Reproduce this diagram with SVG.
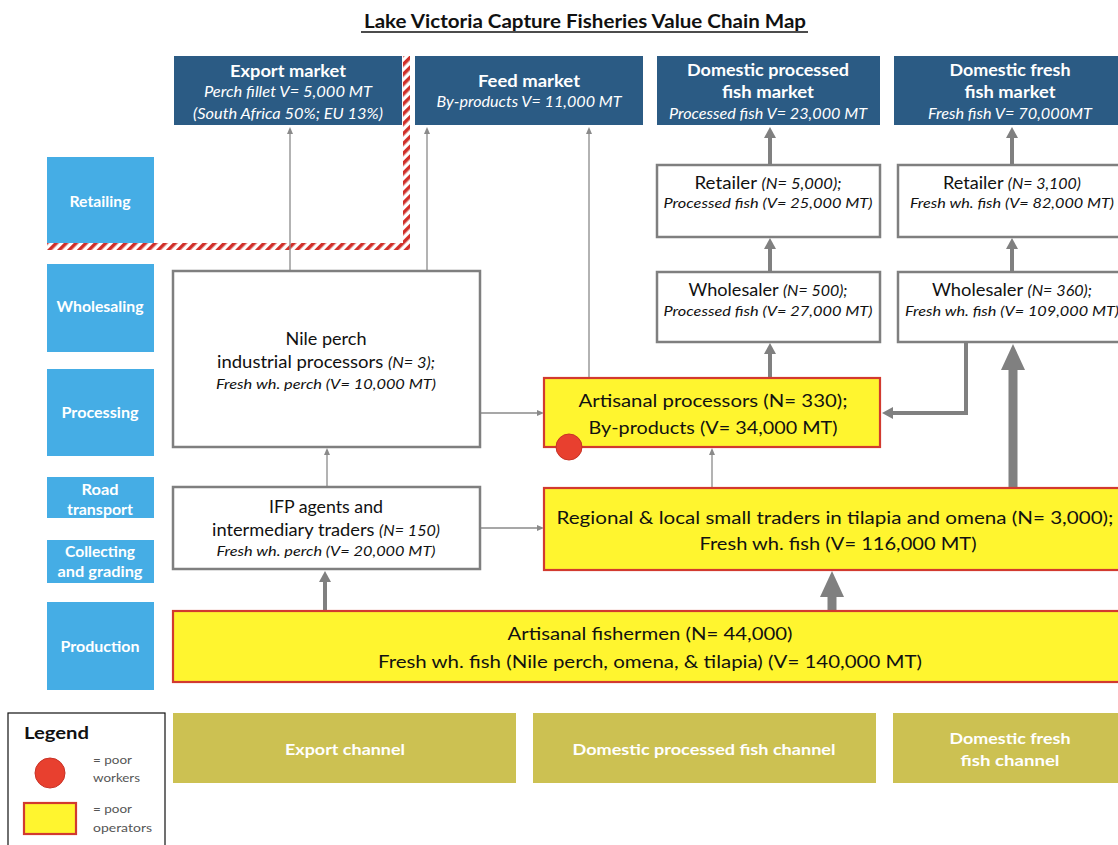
<svg xmlns="http://www.w3.org/2000/svg" width="1118" height="845" viewBox="0 0 1118 845">
<style>
text{font-family:Lato,"Liberation Sans",sans-serif;fill:#111;}
.mkt{fill:#2B5B84;}
.mt{fill:#fff;font-weight:bold;font-size:17px;text-anchor:middle;}
.ms{fill:#fff;font-style:italic;font-size:14.5px;text-anchor:middle;}
.stage{fill:#45ADE5;}
.st{fill:#fff;font-weight:bold;font-size:14.5px;text-anchor:middle;}
.wbox{fill:#fff;stroke:#7F7F7F;stroke-width:2.5;}
.ybox{fill:#FFF52F;stroke:#D23A2F;stroke-width:2.2;}
.bt{font-size:17px;text-anchor:middle;}
.it{font-style:italic;font-size:14px;}
.ti{font-style:italic;font-size:15px;}
.ch{fill:#CCC152;}
.ct{fill:#fff;font-weight:bold;font-size:16px;text-anchor:middle;}
.thin{stroke:#8A8A8A;stroke-width:1.3;fill:none;}
.med{stroke:#808080;stroke-width:4;fill:none;}
.thick{stroke:#808080;stroke-width:9;fill:none;}
.lg{fill:#555;font-size:11.5px;}
</style>
<defs>
<marker id="aThin" markerUnits="userSpaceOnUse" viewBox="0 0 7 6" refX="0" refY="3" markerWidth="7" markerHeight="6" orient="auto"><path d="M0,0 L7,3 L0,6 z" fill="#8A8A8A"/></marker>
<marker id="aMed" markerUnits="userSpaceOnUse" viewBox="0 0 11 12" refX="0" refY="6" markerWidth="11" markerHeight="12" orient="auto"><path d="M0,0 L11,6 L0,12 z" fill="#808080"/></marker>
<marker id="aThick" markerUnits="userSpaceOnUse" viewBox="0 0 26 24" refX="0" refY="12" markerWidth="26" markerHeight="24" orient="auto"><path d="M0,0 L26,12 L0,24 z" fill="#808080"/></marker>
<pattern id="hatch" patternUnits="userSpaceOnUse" width="7" height="7" patternTransform="rotate(45)"><rect width="7" height="7" fill="#fff"/><rect width="3.5" height="7" fill="#D0302A"/></pattern>
</defs>
<rect width="1118" height="845" fill="#fff"/>

<g id="title">
<text x="585" y="28" text-anchor="middle" font-weight="bold" font-size="18" textLength="442" lengthAdjust="spacingAndGlyphs">Lake Victoria Capture Fisheries Value Chain Map</text>
<line x1="361" y1="32" x2="808" y2="32" stroke="#111" stroke-width="1.5"/>
</g>

<g id="stages">
<rect class="stage" x="47" y="157" width="107" height="86"/>
<text class="st" x="100" y="207" textLength="61" lengthAdjust="spacingAndGlyphs">Retailing</text>
<rect class="stage" x="47" y="264" width="107" height="88"/>
<text class="st" x="100" y="312" textLength="87" lengthAdjust="spacingAndGlyphs">Wholesaling</text>
<rect class="stage" x="47" y="369" width="107" height="87"/>
<text class="st" x="100" y="418" textLength="77" lengthAdjust="spacingAndGlyphs">Processing</text>
<rect class="stage" x="47" y="477" width="107" height="41"/>
<text class="st" x="100" y="495" textLength="37" lengthAdjust="spacingAndGlyphs">Road</text>
<text class="st" x="100" y="515" textLength="66" lengthAdjust="spacingAndGlyphs">transport</text>
<rect class="stage" x="47" y="540" width="107" height="43"/>
<text class="st" x="100" y="557" textLength="70" lengthAdjust="spacingAndGlyphs">Collecting</text>
<text class="st" x="100" y="577" textLength="85" lengthAdjust="spacingAndGlyphs">and grading</text>
<rect class="stage" x="47" y="602" width="107" height="88"/>
<text class="st" x="100" y="652" textLength="79" lengthAdjust="spacingAndGlyphs">Production</text>
</g>

<g id="export-boundary">
<rect x="47" y="243" width="363" height="7" fill="url(#hatch)"/>
<rect x="403" y="56" width="7" height="194" fill="url(#hatch)"/>
</g>

<g id="connectors">
<line class="thin" x1="290" y1="271" x2="290" y2="134" marker-end="url(#aThin)"/>
<line class="thin" x1="427" y1="271" x2="427" y2="134" marker-end="url(#aThin)"/>
<line class="thin" x1="589" y1="378" x2="589" y2="134" marker-end="url(#aThin)"/>
<line class="thin" x1="481" y1="413" x2="537" y2="413" marker-end="url(#aThin)"/>
<line class="thin" x1="327" y1="487" x2="327" y2="455" marker-end="url(#aThin)"/>
<line class="thin" x1="481" y1="528" x2="537" y2="528" marker-end="url(#aThin)"/>
<line class="thin" x1="712" y1="488" x2="712" y2="455" marker-end="url(#aThin)"/>
<line class="med" x1="770" y1="378" x2="770" y2="354" marker-end="url(#aMed)"/>
<line class="med" x1="770" y1="272" x2="770" y2="249" marker-end="url(#aMed)"/>
<line class="med" x1="770" y1="165" x2="770" y2="138" marker-end="url(#aMed)"/>
<line class="med" x1="1012" y1="272" x2="1012" y2="249" marker-end="url(#aMed)" stroke-width="5"/>
<line class="med" x1="1012" y1="165" x2="1012" y2="138" marker-end="url(#aMed)" stroke-width="5"/>
<polyline class="med" points="966,343 966,413 893,413" marker-end="url(#aMed)"/>
<line class="med" x1="325" y1="611" x2="325" y2="582" marker-end="url(#aMed)" stroke-width="5"/>
<line class="thick" x1="832" y1="611" x2="832" y2="597" marker-end="url(#aThick)" stroke-width="8"/>
<line class="thick" x1="1013" y1="488" x2="1013" y2="370" marker-end="url(#aThick)"/>
</g>

<g id="export-market">
<rect class="mkt" x="174" y="56" width="228" height="69"/>
<text class="mt" x="288" y="77" textLength="116" lengthAdjust="spacingAndGlyphs">Export market</text>
<text class="ms" x="288" y="97" textLength="168" lengthAdjust="spacingAndGlyphs">Perch fillet V= 5,000 MT</text>
<text class="ms" x="288" y="119" textLength="190" lengthAdjust="spacingAndGlyphs">(South Africa 50%; EU 13%)</text>
</g>
<g id="feed-market">
<rect class="mkt" x="415" y="56" width="228" height="69"/>
<text class="mt" x="529" y="87" textLength="102" lengthAdjust="spacingAndGlyphs">Feed market</text>
<text class="ms" x="529" y="107" textLength="185" lengthAdjust="spacingAndGlyphs">By-products V= 11,000 MT</text>
</g>
<g id="domestic-processed-market">
<rect class="mkt" x="657" y="56" width="223" height="69"/>
<text class="mt" x="768" y="76" textLength="162" lengthAdjust="spacingAndGlyphs">Domestic processed</text>
<text class="mt" x="768" y="98" textLength="92" lengthAdjust="spacingAndGlyphs">fish market</text>
<text class="ms" x="768" y="119" textLength="198" lengthAdjust="spacingAndGlyphs">Processed fish V= 23,000 MT</text>
</g>
<g id="domestic-fresh-market">
<rect class="mkt" x="894" y="56" width="232" height="69"/>
<text class="mt" x="1010" y="76" textLength="121" lengthAdjust="spacingAndGlyphs">Domestic fresh</text>
<text class="mt" x="1010" y="98" textLength="91" lengthAdjust="spacingAndGlyphs">fish market</text>
<text class="ms" x="1010" y="119" textLength="164" lengthAdjust="spacingAndGlyphs">Fresh fish V= 70,000MT</text>
</g>

<g id="retailer-processed">
<rect class="wbox" x="657" y="165" width="223" height="72"/>
<text class="bt" x="768" y="189" textLength="147" lengthAdjust="spacingAndGlyphs">Retailer <tspan class="ti">(N= 5,000);</tspan></text>
<text class="bt it" x="768" y="208" textLength="209" lengthAdjust="spacingAndGlyphs">Processed fish (V= 25,000 MT)</text>
</g>
<g id="retailer-fresh">
<rect class="wbox" x="898" y="165" width="230" height="72"/>
<text class="bt" x="1012" y="189" textLength="138" lengthAdjust="spacingAndGlyphs">Retailer <tspan class="ti">(N= 3,100)</tspan></text>
<text class="bt it" x="1012" y="208" textLength="204" lengthAdjust="spacingAndGlyphs">Fresh wh. fish (V= 82,000 MT)</text>
</g>
<g id="wholesaler-processed">
<rect class="wbox" x="657" y="272" width="223" height="70"/>
<text class="bt" x="768" y="296" textLength="159" lengthAdjust="spacingAndGlyphs">Wholesaler <tspan class="ti">(N= 500);</tspan></text>
<text class="bt it" x="768" y="316" textLength="209" lengthAdjust="spacingAndGlyphs">Processed fish (V= 27,000 MT)</text>
</g>
<g id="wholesaler-fresh">
<rect class="wbox" x="898" y="272" width="230" height="70"/>
<text class="bt" x="1012" y="296" textLength="160" lengthAdjust="spacingAndGlyphs">Wholesaler <tspan class="ti">(N= 360);</tspan></text>
<text class="bt it" x="1012" y="316" textLength="214" lengthAdjust="spacingAndGlyphs">Fresh wh. fish (V= 109,000 MT)</text>
</g>

<g id="nile-perch-processors">
<rect class="wbox" x="173" y="271" width="307" height="176"/>
<text class="bt" x="326" y="345" textLength="81" lengthAdjust="spacingAndGlyphs">Nile perch</text>
<text class="bt" x="326" y="368" textLength="218" lengthAdjust="spacingAndGlyphs">industrial processors <tspan class="ti">(N= 3);</tspan></text>
<text class="bt it" x="326" y="389" textLength="220" lengthAdjust="spacingAndGlyphs">Fresh wh. perch (V= 10,000 MT)</text>
</g>
<g id="ifp-agents">
<rect class="wbox" x="173" y="487" width="307" height="82"/>
<text class="bt" x="326" y="513" textLength="114" lengthAdjust="spacingAndGlyphs">IFP agents and</text>
<text class="bt" x="326" y="536" textLength="228" lengthAdjust="spacingAndGlyphs">intermediary traders <tspan class="ti">(N= 150)</tspan></text>
<text class="bt it" x="326" y="556" textLength="219" lengthAdjust="spacingAndGlyphs">Fresh wh. perch (V= 20,000 MT)</text>
</g>
<g id="artisanal-processors">
<rect class="ybox" x="544" y="378" width="336" height="69"/>
<text class="bt" x="713" y="407" textLength="269" lengthAdjust="spacingAndGlyphs">Artisanal processors (N= 330);</text>
<text class="bt" x="713" y="434" textLength="249" lengthAdjust="spacingAndGlyphs">By-products (V= 34,000 MT)</text>
<circle cx="569" cy="447" r="13" fill="#E8402F" stroke="#C83226" stroke-width="1"/>
</g>
<g id="regional-traders">
<rect class="ybox" x="544" y="488" width="590" height="82"/>
<text class="bt" x="835" y="524" textLength="557" lengthAdjust="spacingAndGlyphs">Regional &amp; local small traders in tilapia and omena (N= 3,000);</text>
<text class="bt" x="838" y="550" textLength="277" lengthAdjust="spacingAndGlyphs">Fresh wh. fish (V= 116,000 MT)</text>
</g>
<g id="artisanal-fishermen">
<rect class="ybox" x="173" y="611" width="960" height="71"/>
<text class="bt" x="650" y="640" textLength="285" lengthAdjust="spacingAndGlyphs">Artisanal fishermen (N= 44,000)</text>
<text class="bt" x="650" y="668" textLength="544" lengthAdjust="spacingAndGlyphs">Fresh wh. fish (Nile perch, omena, &amp; tilapia) (V= 140,000 MT)</text>
</g>

<g id="channels">
<rect class="ch" x="173" y="713" width="343" height="70"/>
<text class="ct" x="345" y="755" textLength="120" lengthAdjust="spacingAndGlyphs">Export channel</text>
<rect class="ch" x="533" y="713" width="343" height="70"/>
<text class="ct" x="704" y="755" textLength="263" lengthAdjust="spacingAndGlyphs">Domestic processed fish channel</text>
<rect class="ch" x="893" y="713" width="240" height="70"/>
<text class="ct" x="1010" y="744" textLength="121" lengthAdjust="spacingAndGlyphs">Domestic fresh</text>
<text class="ct" x="1010" y="766" textLength="99" lengthAdjust="spacingAndGlyphs">fish channel</text>
</g>

<g id="legend">
<rect x="8" y="713" width="157" height="140" fill="#fff" stroke="#111" stroke-width="1.2"/>
<text x="24" y="739" font-weight="bold" font-size="17" textLength="65" lengthAdjust="spacingAndGlyphs">Legend</text>
<circle cx="50" cy="773" r="15" fill="#E8402F" stroke="#C83226" stroke-width="1"/>
<text class="lg" x="93" y="764" textLength="39" lengthAdjust="spacingAndGlyphs">= poor</text>
<text class="lg" x="93" y="782" textLength="47" lengthAdjust="spacingAndGlyphs">workers</text>
<rect x="24" y="803" width="52" height="31" fill="#FFF52F" stroke="#D23A2F" stroke-width="2.2"/>
<text class="lg" x="93" y="813" textLength="39" lengthAdjust="spacingAndGlyphs">= poor</text>
<text class="lg" x="93" y="832" textLength="59" lengthAdjust="spacingAndGlyphs">operators</text>
</g>
</svg>
